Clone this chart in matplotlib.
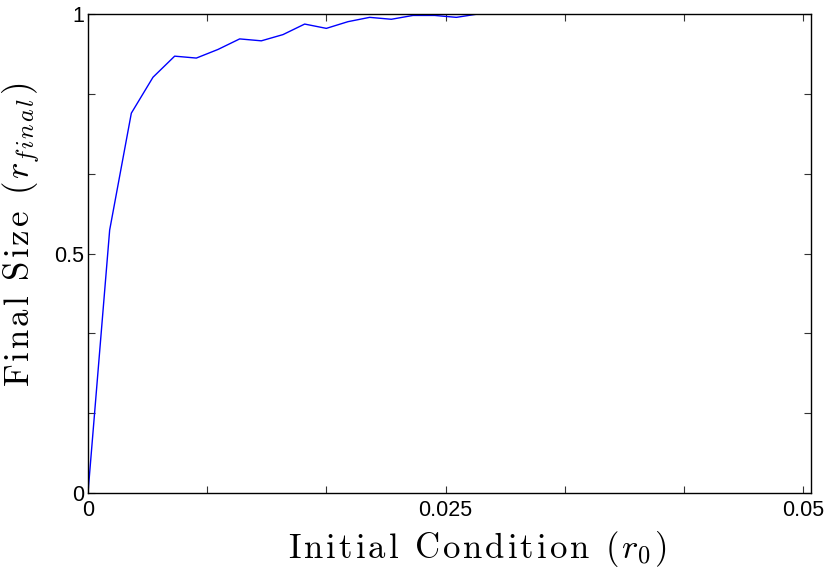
import numpy as np
import matplotlib
matplotlib.use("Agg")
import matplotlib.pyplot as plt

plt.rcParams['mathtext.fontset'] = 'cm'
plt.rcParams['font.family'] = ['Liberation Sans', 'DejaVu Sans']

r0 = np.linspace(0, 0.05, 34)
r_final = [0.0, 0.549, 0.793, 0.868, 0.912, 0.908, 0.926, 0.948, 0.944, 0.957,
           0.979, 0.970, 0.984, 0.993, 0.989, 0.997, 0.997, 0.993, 1.0, 1.0,
           1.0, 1.0, 1.0, 1.0, 1.0, 1.0, 1.0, 1.0, 1.0, 1.0, 1.0, 1.0, 1.0, 1.0]

xticks = [0, 0.025, 0.05]
xtick_labels = ['0', '0.025', '0.05']
yticks = [0, 0.5, 1]
ytick_labels = ['0', '0.5', '1']

SP = 0.1


def spaced_rm(s, sp=SP):
    parts = []
    for ch in s:
        if ch == ' ':
            parts.append(r'\ ')
        else:
            parts.append(r'\mathrm{' + ch + '}')
    return (r'\hspace{%g}' % sp).join(parts)


def spaced_it(s, sp=SP):
    return (r'\hspace{%g}' % sp).join(list(s))


gap = r'\hspace{%g}\ \hspace{%g}' % (SP, SP)
xlabel = '$' + spaced_rm('Initial Condition') + gap + r'(\hspace{%g}r_0\hspace{%g})$' % (SP, SP)
ylabel = '$' + spaced_rm('Final Size') + gap + r'(\hspace{%g}r_{' % SP + spaced_it('final') + r'}\hspace{%g})$' % SP

fig = plt.figure(figsize=(8.31, 5.76), dpi=100)
ax = fig.add_axes([88/831, 1-493/576, (811-88)/831, (493-14)/576])
ax.plot(r0, r_final, color='#0000ff', lw=1.0)
ax.set_xlim(0, 0.05*723/715)
ax.set_ylim(0, 1)

ax.set_xticks(xticks)
ax.set_xticklabels(xtick_labels)
ax.set_xticks(np.linspace(0, 0.05, 7), minor=True)
ax.set_yticks(yticks)
ax.set_yticklabels(ytick_labels)
ax.set_yticks(np.linspace(0, 1, 7), minor=True)
ax.tick_params(which='both', direction='in', top=True, right=True, length=5, width=0.8,
               color='#333333', labelsize=15.5)
ax.tick_params(axis='x', pad=5)
ax.tick_params(axis='y', pad=3)
for s in ax.spines.values():
    s.set_linewidth(1.0)

ax.set_xlabel(xlabel, fontsize=25)
ax.set_ylabel(ylabel, fontsize=25)
ax.xaxis.set_label_coords(0.539, -(529 - 493) / 479)
ax.yaxis.set_label_coords(-(88 - 43) / 723, 0.539)

fig.savefig('out.png', dpi=100)
